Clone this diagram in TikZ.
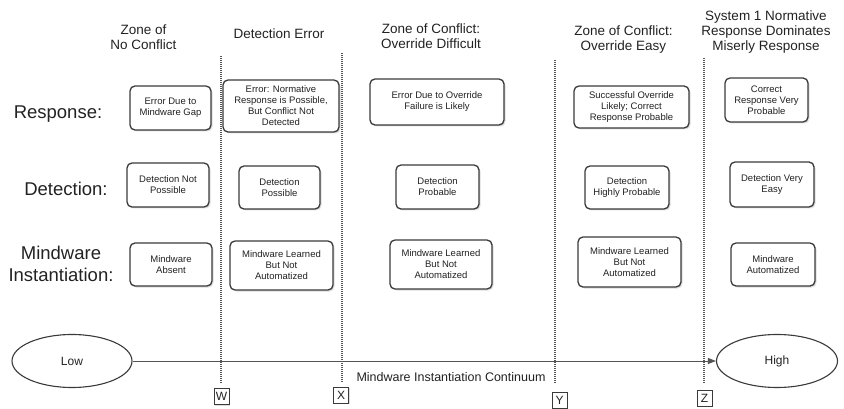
\documentclass[tikz,border=0pt]{standalone}
\usepackage{fontspec}
\setmainfont{Liberation Sans}
\usetikzlibrary{arrows.meta,shadows,shapes.geometric}
\definecolor{ink}{HTML}{222222}
\definecolor{edge}{HTML}{3a3a3a}
\definecolor{dots}{HTML}{555555}
\tikzset{
  bx/.style={draw=edge, line width=1.3pt, rounded corners=5pt, fill=white, align=center,
    inner sep=1pt, text=ink, font=\fontsize{9.5}{11}\selectfont,
    drop shadow={shadow xshift=1.5pt, shadow yshift=-1.5pt, fill=gray!55}},
  hdr/.style={align=center, text=ink, font=\fontsize{13.5}{15}\selectfont},
  rowlab/.style={align=center, text=ink, font=\fontsize{18.5}{22}\selectfont},
  ell/.style={draw=edge, line width=1.1pt, ellipse, fill=white, text=ink, font=\fontsize{12}{14}\selectfont},
  letter/.style={draw=edge, line width=1pt, fill=white, text=ink, inner sep=0pt,
    minimum width=15pt, minimum height=16pt, font=\fontsize{12}{13}\selectfont,
    drop shadow={shadow xshift=1.2pt, shadow yshift=-1.2pt, fill=gray!55}},
  divider/.style={draw=dots, line width=1.1pt, dash pattern=on 1pt off 1pt},
}
\begin{document}
\begin{tikzpicture}[x=1pt,y=-1pt]
\useasboundingbox (0,0) rectangle (844,409);

% headers
\node[hdr] (h1) at (143.5,37) {Zone of\\No Conflict};
\node[hdr] (h2) at (279,34) {Detection Error};
\node[hdr] (h3) at (431,36) {Zone of Conflict:\\Override Difficult};
\node[hdr] (h4) at (623.5,40) {Zone of Conflict:\\Override Easy};
\node[hdr] (h5) at (766,32) {System 1 Normative\\Response Dominates\\Miserly Response};

% row labels
\node[rowlab] (lr) at (58,114) {Response:};
\node[rowlab] (ld) at (66,189) {Detection:};
\node[rowlab] (lm) at (61,264) {Mindware\\Instantiation:};

% dividers and letters
\node[letter] (W) at (221.5,396.5) {W};
\node[letter] (X) at (341,395) {X};
\node[letter] (Y) at (559.5,400) {Y};
\node[letter] (Z) at (704.5,398) {Z};
\coordinate (wt) at (221,56);
\coordinate (xt) at (342,53);
\coordinate (yt) at (555,60);
\coordinate (zt) at (704,58);
\coordinate (wb) at (221,383);
\coordinate (xb) at (342,383);
\coordinate (yb) at (555,383);
\coordinate (zb) at (704,383);
\draw[divider] (wt) -- (wb);
\draw[divider] (xt) -- (xb);
\draw[divider] (yt) -- (yb);
\draw[divider] (zt) -- (zb);

% response row
\node[bx, minimum width=81, minimum height=44] (r1) at (170.5,108) {Error Due to\\Mindware Gap};
\node[bx, minimum width=116, minimum height=52] (r2) at (281,106) {Error: Normative\\Response is Possible,\\But  Conflict Not\\Detected};
\node[bx, minimum width=134, minimum height=46] (r3) at (437,102) {Error Due to Override\\Failure is Likely};
\node[bx, minimum width=115, minimum height=42] (r4) at (631.5,107) {Successful Override\\Likely; Correct\\Response Probable};
\node[bx, minimum width=83, minimum height=44] (r5) at (766.5,100) {Correct\\Response Very\\Probable};

% detection row
\node[bx, minimum width=82, minimum height=44] (d1) at (168,185) {Detection Not\\Possible};
\node[bx, minimum width=81, minimum height=43] (d2) at (279.5,187.5) {Detection\\Possible};
\node[bx, minimum width=83, minimum height=44] (d3) at (437.5,187) {Detection\\Probable};
\node[bx, minimum width=84, minimum height=43] (d4) at (627,187.5) {Detection\\Highly Probable};
\node[bx, minimum width=84, minimum height=45] (d5) at (772,184.5) {Detection Very\\Easy};

% mindware row
\node[bx, minimum width=82, minimum height=43] (m1) at (171,264.5) {Mindware\\Absent};
\node[bx, minimum width=103, minimum height=49] (m2) at (281.5,265.5) {Mindware Learned\\But Not\\Automatized};
\node[bx, minimum width=102, minimum height=49] (m3) at (441,264.5) {Mindware Learned\\But Not\\Automatized};
\node[bx, minimum width=103, minimum height=50] (m4) at (629.5,262) {Mindware Learned\\But Not\\Automatized};
\node[bx, minimum width=84, minimum height=43] (m5) at (773,264.5) {Mindware\\Automatized};

% continuum
\node[ell, minimum width=120, minimum height=53] (low) at (72,361) {Low};
\node[ell, minimum width=121, minimum height=53] (high) at (777,361) {High};
\draw[draw=dots, line width=1pt, -{Triangle[length=8pt,width=6pt]}] (low) -- (high);
\node[text=ink, font=\fontsize{12.5}{14}\selectfont] (cont) at (451,377) {Mindware Instantiation Continuum};
\end{tikzpicture}
\end{document}
